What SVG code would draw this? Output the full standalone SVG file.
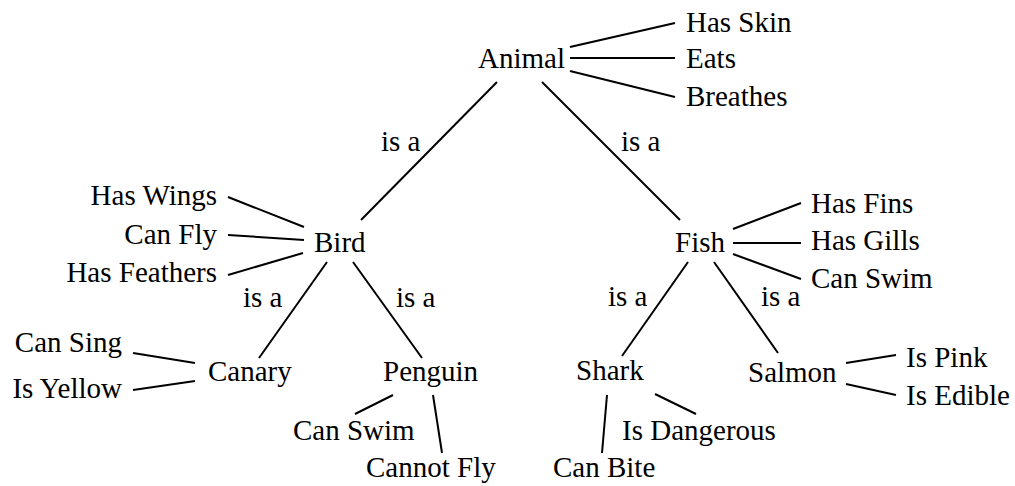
<svg xmlns="http://www.w3.org/2000/svg" width="1015" height="486" viewBox="0 0 1015 486">
  <style>
    text { font-family: "Liberation Serif", Tinos, "Times New Roman", Times, "DejaVu Serif", serif; font-size: 29px; fill: #000; }
    .end { text-anchor: end; }
    line { stroke: #000; stroke-width: 2; stroke-linecap: butt; }
  </style>
  <rect width="1015" height="486" fill="#fff"/>

  <!-- connectors: inheritance edges and property links -->
  <g id="connectors">
    <line x1="570" y1="47" x2="675" y2="23"/>
    <line x1="570" y1="58" x2="675" y2="58"/>
    <line x1="570" y1="71" x2="675" y2="97"/>
    <line x1="497" y1="82" x2="361" y2="220"/>
    <line x1="542" y1="82" x2="680" y2="220"/>
    <line x1="304" y1="227" x2="228" y2="197"/>
    <line x1="304" y1="240" x2="228" y2="235"/>
    <line x1="303" y1="253" x2="228" y2="275"/>
    <line x1="327" y1="262" x2="259" y2="358"/>
    <line x1="353" y1="262" x2="422" y2="358"/>
    <line x1="733" y1="229" x2="801" y2="203"/>
    <line x1="733" y1="243" x2="801" y2="243"/>
    <line x1="733" y1="254" x2="801" y2="279"/>
    <line x1="688" y1="262" x2="622" y2="356"/>
    <line x1="714" y1="262" x2="778" y2="353"/>
    <line x1="195" y1="363" x2="133" y2="353"/>
    <line x1="195" y1="381" x2="133" y2="390"/>
    <line x1="393" y1="395" x2="355" y2="414"/>
    <line x1="433" y1="395" x2="442" y2="453"/>
    <line x1="607" y1="395" x2="602" y2="453"/>
    <line x1="655" y1="394" x2="696" y2="414"/>
    <line x1="846" y1="363" x2="896" y2="355"/>
    <line x1="846" y1="384" x2="896" y2="395"/>
    <text x="381" y="151">is a</text>
    <text x="621" y="151">is a</text>
    <text x="243" y="307">is a</text>
    <text x="396" y="307">is a</text>
    <text x="608" y="306">is a</text>
    <text x="761" y="306">is a</text>
  </g>

  <!-- concept nodes -->
  <g id="animal"><text x="478" y="68">Animal</text></g>
  <g id="bird"><text x="314" y="252">Bird</text></g>
  <g id="fish"><text x="675" y="252">Fish</text></g>
  <g id="canary"><text x="208" y="381">Canary</text></g>
  <g id="penguin"><text x="383" y="381">Penguin</text></g>
  <g id="shark"><text x="576" y="380">Shark</text></g>
  <g id="salmon"><text x="748" y="382">Salmon</text></g>

  <!-- property nodes -->
  <g id="has-skin"><text x="686" y="32">Has Skin</text></g>
  <g id="eats"><text x="686" y="68">Eats</text></g>
  <g id="breathes"><text x="686" y="106">Breathes</text></g>
  <g id="has-wings"><text class="end" x="217" y="205">Has Wings</text></g>
  <g id="can-fly"><text class="end" x="217" y="244">Can Fly</text></g>
  <g id="has-feathers"><text class="end" x="217" y="282">Has Feathers</text></g>
  <g id="has-fins"><text x="811" y="213">Has Fins</text></g>
  <g id="has-gills"><text x="811" y="250">Has Gills</text></g>
  <g id="fish-can-swim"><text x="811" y="288">Can Swim</text></g>
  <g id="can-sing"><text class="end" x="122" y="352">Can Sing</text></g>
  <g id="is-yellow"><text class="end" x="122" y="398">Is Yellow</text></g>
  <g id="penguin-can-swim"><text x="293" y="440">Can Swim</text></g>
  <g id="cannot-fly"><text x="366" y="477">Cannot Fly</text></g>
  <g id="can-bite"><text x="553" y="477">Can Bite</text></g>
  <g id="is-dangerous"><text x="622" y="440">Is Dangerous</text></g>
  <g id="is-pink"><text x="906" y="367">Is Pink</text></g>
  <g id="is-edible"><text x="906" y="405">Is Edible</text></g>
</svg>
